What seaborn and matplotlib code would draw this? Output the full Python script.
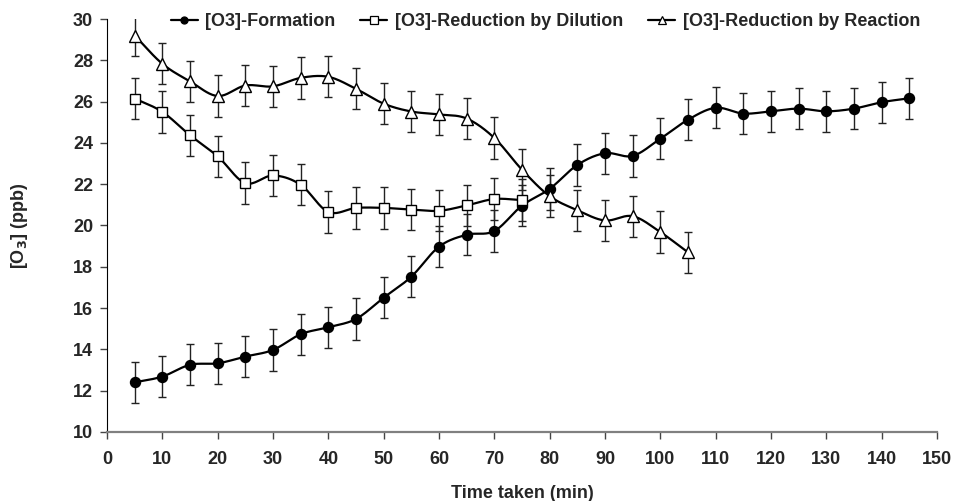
import numpy as np
import pandas as pd
import matplotlib
matplotlib.use("Agg")
import matplotlib.pyplot as plt
import seaborn as sns
from matplotlib.lines import Line2D

sns.set_style("white")
plt.rcParams['font.family'] = ['Liberation Sans', 'DejaVu Sans']
plt.rcParams['font.weight'] = 'bold'
plt.rcParams['mathtext.default'] = 'bf'

time_formation = [5, 10, 15, 20, 25, 30, 35, 40, 45, 50, 55, 60, 65, 70, 75, 80, 85, 90, 95, 100,
                  105, 110, 115, 120, 125, 130, 135, 140, 145]
formation = [12.4, 12.68, 13.25, 13.32, 13.65, 13.97, 14.73, 15.07, 15.47, 16.5, 17.52, 18.97, 19.55,
             19.73, 20.96, 21.77, 22.93, 23.5, 23.37, 24.2, 25.12, 25.7, 25.42, 25.53, 25.66, 25.53,
             25.66, 25.97, 26.16]
time_dilution = [5, 10, 15, 20, 25, 30, 35, 40, 45, 50, 55, 60, 65, 70, 75]
dilution = [26.15, 25.5, 24.37, 23.35, 22.05, 22.42, 21.97, 20.65, 20.85, 20.85, 20.77, 20.71,
            20.97, 21.28, 21.23]
time_reaction = [5, 10, 15, 20, 25, 30, 35, 40, 45, 50, 55, 60, 65, 70, 75, 80, 85, 90, 95, 100, 105]
reaction = [29.2, 27.83, 26.98, 26.27, 26.78, 26.74, 27.15, 27.2, 26.62, 25.9, 25.52, 25.38, 25.18,
            24.24, 22.7, 21.42, 20.74, 20.24, 20.45, 19.68, 18.7]
error = 1.0

series = [
    ("[O3]-Formation", time_formation, formation, "o", "black", 7.2),
    ("[O3]-Reduction by Dilution", time_dilution, dilution, "s", "white", 7.5),
    ("[O3]-Reduction by Reaction", time_reaction, reaction, "^", "white", 8.5),
]

def catmull_rom(x, y, n=20):
    x = np.asarray(x, float); y = np.asarray(y, float)
    px = np.concatenate([[2*x[0]-x[1]], x, [2*x[-1]-x[-2]]])
    py = np.concatenate([[2*y[0]-y[1]], y, [2*y[-1]-y[-2]]])
    xs, ys = [], []
    for i in range(1, len(px)-2):
        t = np.linspace(0, 1, n, endpoint=False)
        for arr, out in ((px, xs), (py, ys)):
            p0, p1, p2, p3 = arr[i-1], arr[i], arr[i+1], arr[i+2]
            out.extend(0.5*((2*p1) + (-p0+p2)*t + (2*p0-5*p1+4*p2-p3)*t**2 + (-p0+3*p1-3*p2+p3)*t**3))
    xs.append(x[-1]); ys.append(y[-1])
    return np.array(xs), np.array(ys)

fig = plt.figure(figsize=(9.56, 5.01), dpi=100)
ax = fig.add_axes([0.112, 0.138, 0.868, 0.824])

handles = []
for name, xs, ys, mk, fc, ms in series:
    sx, sy = catmull_rom(xs, ys)
    df = pd.DataFrame({"x": sx, "y": sy})
    sns.lineplot(data=df, x="x", y="y", ax=ax, color="black", lw=1.6, sort=False, estimator=None)
    ax.errorbar(xs, ys, yerr=error, fmt=mk, mfc=fc, mec="black", mew=1.0, ms=ms,
                ecolor="#222222", elinewidth=1.0, capsize=2.6, capthick=1.0, zorder=3)
    handles.append(Line2D([0], [0], color="black", lw=1.6, marker=mk, mfc=fc, mec="black",
                          ms=ms * 0.7, mew=0.9))

ax.set_xlim(0, 150)
ax.set_ylim(10, 30)
ax.set_xticks(np.arange(0, 151, 10))
ax.set_yticks(np.arange(10, 31, 2))
ax.tick_params(axis="both", labelsize=13, direction="out", length=5, width=1,
               bottom=True, left=True, color="#444444")
ax.tick_params(axis="x", pad=9)
ax.tick_params(axis="y", pad=5)
for lab in ax.get_xticklabels() + ax.get_yticklabels():
    lab.set_fontweight("bold")
for s in ["top", "right"]:
    ax.spines[s].set_visible(False)
ax.spines["left"].set_color("black")
ax.spines["bottom"].set_color("#808080")
ax.spines["bottom"].set_linewidth(1.6)
ax.set_xlabel("Time taken (min)", fontsize=13, fontweight="bold")
ax.set_ylabel("[O$_3$] (ppb)", fontsize=13, fontweight="bold")
ax.xaxis.set_label_coords(0.5, -0.128)
ax.yaxis.set_label_coords(-0.106, 0.5)
ax.yaxis.label.set_horizontalalignment("center")
ax.yaxis.label.set_verticalalignment("center")

ax.legend(handles, [s[0] for s in series], loc="center", bbox_to_anchor=(0.528, 0.993),
          ncol=3, frameon=False, prop={"size": 13, "weight": "bold"}, handlelength=1.5,
          handletextpad=0.4, columnspacing=1.4, borderaxespad=0, borderpad=0)

fig.savefig("out.png", dpi=100)
